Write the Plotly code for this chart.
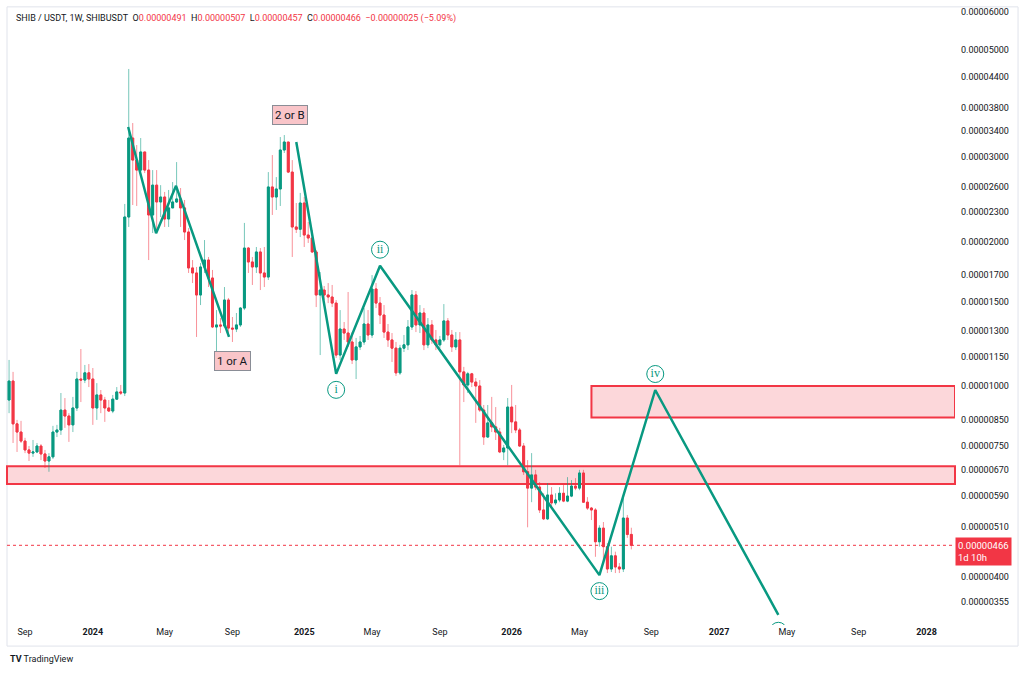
import numpy as np
import pandas as pd
import plotly.graph_objects as go

UNIT = 1e-6  # all prices below are in millionths of USDT

# weekly SHIB/USDT candles, first week starting 2023-08-07
first_week = "2023-08-07"
opens = [
    9.35, 10.24, 8.34, 8.02, 7.68, 7.36, 7.25, 7.29, 7.50, 7.22,
    6.98, 7.12, 8.02, 8.10, 8.91, 8.66, 8.30, 9.00, 10.34, 10.29,
    10.65, 10.34, 9.00, 9.58, 9.35, 9.00, 8.87, 9.39, 9.72, 9.67,
    22.48, 32.82, 29.53, 28.15, 30.70, 28.15, 22.70, 26.19, 24.16, 24.74,
    22.27, 23.48, 24.16, 24.51, 23.48, 20.92, 17.61, 17.19, 15.47, 17.69,
    18.29, 16.78, 13.27, 13.40, 13.33, 15.10, 13.20, 13.14, 13.40, 14.53,
    19.37, 18.12, 17.69, 19.01, 17.19, 16.86, 25.96, 24.74, 25.71, 30.99,
    32.20, 27.88, 21.43, 21.20, 24.04, 20.62, 20.33, 19.01, 15.47, 15.84,
    15.47, 15.32, 14.88, 11.60, 13.14, 12.89, 12.35, 11.33, 12.06, 12.35,
    13.46, 12.77, 15.92, 14.88, 14.05, 12.95, 12.47, 11.99, 10.65, 11.99,
    12.18, 13.27, 15.47, 13.40, 14.19, 12.18, 13.40, 12.47, 12.18, 12.47,
    13.66, 12.77, 12.06, 12.47, 10.70, 10.05, 10.60, 10.19, 10.00, 8.91,
    7.83, 8.38, 8.22, 8.02, 7.29, 7.43, 9.04, 8.42, 8.10, 7.50,
    6.63, 6.13, 6.53, 6.16, 5.52, 5.29, 5.93, 5.71, 5.79, 5.98,
    5.76, 5.90, 6.19, 6.13, 6.59, 5.73, 5.57, 5.52, 4.74, 5.06,
    4.63, 4.16, 4.43, 4.20, 4.16, 5.31, 4.91]
highs = [
    11.33, 10.70, 8.50, 8.46, 7.80, 7.50, 7.72, 7.61, 7.57, 7.36,
    7.25, 8.26, 8.30, 9.67, 9.44, 8.78, 9.49, 10.70, 11.94, 11.06,
    11.11, 10.90, 10.14, 9.81, 9.49, 9.35, 9.58, 9.95, 10.05, 23.93,
    45.70, 35.27, 31.74, 32.82, 30.70, 29.53, 28.15, 28.15, 26.19, 25.35,
    25.59, 26.58, 29.25, 25.83, 24.39, 21.32, 18.29, 17.69, 18.03, 20.13,
    18.56, 17.44, 14.39, 13.85, 16.07, 15.25, 13.92, 14.19, 14.60, 21.85,
    19.47, 18.56, 19.47, 19.37, 19.47, 27.88, 30.25, 27.22, 32.98, 33.30,
    32.20, 29.53, 24.04, 25.23, 24.74, 21.95, 21.12, 19.19, 17.27, 16.15,
    16.38, 16.23, 15.10, 14.39, 13.59, 15.69, 12.95, 12.59, 12.71, 14.53,
    14.39, 17.02, 16.38, 15.32, 14.74, 13.46, 12.89, 12.35, 12.18, 12.77,
    13.72, 15.84, 15.77, 14.74, 14.53, 13.85, 13.72, 13.08, 12.71, 14.81,
    13.85, 13.08, 12.95, 12.95, 10.96, 10.70, 10.65, 10.39, 10.29, 9.13,
    9.13, 9.49, 9.04, 8.18, 7.54, 9.44, 10.05, 9.13, 8.18, 7.61,
    7.01, 7.25, 6.69, 6.31, 5.98, 6.28, 6.16, 5.98, 6.16, 6.22,
    6.46, 6.37, 6.43, 6.69, 6.69, 5.87, 5.60, 5.57, 5.13, 5.21,
    4.71, 4.63, 4.52, 4.28, 5.85, 5.39, 5.07]
lows = [
    8.78, 7.61, 7.29, 7.61, 7.25, 6.98, 7.12, 7.25, 7.01, 6.75,
    6.63, 7.05, 7.83, 7.91, 8.18, 7.65, 8.02, 8.87, 9.26, 10.14,
    9.95, 8.30, 8.50, 8.78, 8.42, 8.83, 8.78, 9.35, 9.58, 9.53,
    21.43, 23.81, 23.70, 27.88, 27.75, 18.29, 20.82, 20.92, 22.48, 21.43,
    21.43, 23.48, 24.04, 21.43, 20.13, 17.19, 16.38, 12.65, 14.74, 17.19,
    16.07, 13.20, 10.90, 12.89, 13.20, 12.65, 12.35, 12.95, 13.27, 14.39,
    17.19, 16.23, 17.19, 15.84, 16.07, 16.62, 22.70, 23.25, 23.70, 30.55,
    27.75, 18.56, 20.82, 20.42, 19.47, 19.85, 18.92, 14.60, 11.60, 15.10,
    14.88, 14.60, 11.44, 11.33, 12.47, 12.06, 11.11, 10.34, 11.88, 12.18,
    12.47, 12.59, 14.53, 13.46, 12.59, 12.06, 11.22, 10.49, 10.55, 11.77,
    11.88, 13.08, 12.95, 12.89, 11.88, 11.99, 12.24, 11.88, 11.99, 12.35,
    12.47, 11.77, 11.88, 6.84, 9.26, 9.67, 9.95, 8.38, 8.83, 7.54,
    7.80, 8.02, 7.72, 7.25, 7.01, 6.84, 7.98, 7.98, 7.47, 6.53,
    5.08, 5.73, 6.07, 5.44, 5.26, 5.26, 5.60, 5.65, 5.73, 5.73,
    5.73, 5.87, 6.07, 6.07, 5.71, 5.52, 5.26, 4.41, 4.63, 4.28,
    4.08, 4.10, 4.08, 4.08, 4.10, 4.83, 4.57]
closes = [
    10.24, 8.34, 8.02, 7.68, 7.36, 7.25, 7.29, 7.50, 7.22, 6.98,
    7.12, 8.02, 8.10, 8.91, 8.66, 8.30, 9.00, 10.34, 10.29, 10.65,
    10.34, 9.00, 9.58, 9.35, 9.00, 8.87, 9.39, 9.72, 9.67, 22.48,
    32.82, 29.53, 28.15, 30.70, 28.15, 22.70, 26.19, 24.16, 24.74, 22.27,
    23.48, 24.16, 24.51, 23.48, 20.92, 17.61, 17.19, 15.47, 17.69, 18.29,
    16.78, 13.27, 13.40, 13.33, 15.10, 13.20, 13.14, 13.40, 14.53, 19.37,
    18.12, 17.69, 19.01, 17.19, 16.86, 25.96, 24.74, 25.71, 30.99, 32.20,
    27.88, 21.43, 21.20, 24.04, 20.62, 20.33, 19.01, 15.47, 15.84, 15.47,
    15.32, 14.88, 11.60, 13.14, 12.89, 12.35, 11.33, 12.06, 12.35, 13.46,
    12.77, 15.92, 14.88, 14.05, 12.95, 12.47, 11.99, 10.65, 11.99, 12.18,
    13.27, 15.47, 13.40, 14.19, 12.18, 13.40, 12.47, 12.18, 12.47, 13.66,
    12.77, 12.06, 12.47, 10.70, 10.05, 10.60, 10.19, 10.00, 8.91, 7.83,
    8.38, 8.22, 8.02, 7.29, 7.43, 9.04, 8.42, 8.10, 7.50, 6.63,
    6.13, 6.53, 6.16, 5.52, 5.29, 5.93, 5.71, 5.79, 5.98, 5.76,
    5.90, 6.19, 6.13, 6.59, 5.73, 5.57, 5.52, 4.74, 5.06, 4.63,
    4.16, 4.43, 4.20, 4.16, 5.31, 4.91, 4.66]

# elliott wave drawings
abc_dates = ["2024-03-03", "2024-04-21", "2024-05-26", "2024-08-27"]
abc_prices = [34.6, 20.8, 26.1, 12.65]
wave_dates = ["2024-12-23", "2025-03-03", "2025-05-19", "2026-06-08", "2026-09-14", "2027-04-18"]
wave_prices = [32.2, 10.6, 17.8, 4.04, 9.81, 3.34]
wave_names = ["", "i", "ii", "iii", "iv", ""]
wave_side = [0, -1, 1, -1, 1, -1]   # label below (-1) / above (1)

# supply zones
zone_low = [6.25, 6.81]
zone_high = [8.6, 10.0]
zone_high_start = "2026-05-25"

price_ticks = [60, 50, 44, 38, 34, 30, 26, 23, 20, 17, 15, 13, 11.5, 10,
               8.5, 7.5, 6.7, 5.9, 5.1, 4.0, 3.55]
time_ticks = ["2023-09-04", "2024-01-01", "2024-05-06", "2024-09-02", "2025-01-06",
              "2025-05-05", "2025-09-01", "2026-01-05", "2026-05-04", "2026-09-07",
              "2027-01-04", "2027-05-03", "2027-09-06", "2028-01-03"]
time_labels = ["Sep", "<b>2024</b>", "May", "Sep", "<b>2025</b>", "May", "Sep",
               "<b>2026</b>", "May", "Sep", "<b>2027</b>", "May", "Sep", "<b>2028</b>"]

UP = "#089981"
DOWN = "#f23645"
TXT = "#131722"
FONT = "Roboto"

y_range = [-5.4975, -4.2069]
plot_h = 620  # px height of the price pane
px_per_decade = plot_h / (y_range[1] - y_range[0])

dates = pd.date_range(first_week, periods=len(closes), freq="7D")
o = np.array(opens) * UNIT
h = np.array(highs) * UNIT
l = np.array(lows) * UNIT
c = np.array(closes) * UNIT

fig = go.Figure()

# wicks, a bit lighter like on the TV chart
fig.add_trace(go.Candlestick(
    x=dates, open=o, high=h, low=l, close=c,
    increasing=dict(line=dict(color="rgba(8,153,129,0.55)", width=1), fillcolor="rgba(8,153,129,0.55)"),
    decreasing=dict(line=dict(color="rgba(242,54,69,0.55)", width=1), fillcolor="rgba(242,54,69,0.55)"),
    hoverinfo="skip", showlegend=False))
# solid bodies on top
fig.add_trace(go.Candlestick(
    x=dates, open=o, high=np.maximum(o, c), low=np.minimum(o, c), close=c,
    increasing=dict(line=dict(color=UP, width=1), fillcolor=UP),
    decreasing=dict(line=dict(color=DOWN, width=1), fillcolor=DOWN),
    hoverinfo="skip", showlegend=False))

fig.add_trace(go.Scatter(x=abc_dates, y=np.array(abc_prices) * UNIT, mode="lines",
                         line=dict(color=UP, width=2.5), hoverinfo="skip", showlegend=False))
fig.add_trace(go.Scatter(x=wave_dates, y=np.array(wave_prices) * UNIT, mode="lines",
                         line=dict(color=UP, width=2.5), hoverinfo="skip", showlegend=False))

# circled wave labels, 16 px above / below each pivot
lab_x = [d for d, s in zip(wave_dates, wave_side) if s != 0]
lab_y = [p * UNIT * 10 ** (s * 16 / px_per_decade)
         for p, s in zip(wave_prices, wave_side) if s != 0]
lab_t = [n for n, s in zip(wave_names, wave_side) if s != 0]
fig.add_trace(go.Scatter(x=lab_x, y=lab_y, mode="markers+text", text=lab_t,
                         textposition="middle center",
                         textfont=dict(family="Liberation Serif", size=12, color=UP),
                         marker=dict(symbol="circle", size=17, color="white",
                                     line=dict(color=UP, width=1)),
                         hoverinfo="skip", showlegend=False))

x_range = ["2023-08-03 09:00", "2028-02-22"]

shapes = [
    # frame
    dict(type="rect", xref="paper", yref="paper", x0=0, x1=1.0665, y0=-0.034, y1=0.997,
         line=dict(color="#e0e3eb", width=1), layer="below"),
    dict(type="rect", xref="paper", yref="y", x0=0, x1=1,
         y0=zone_low[0] * UNIT, y1=zone_low[1] * UNIT,
         fillcolor="rgba(242,54,69,0.2)", line=dict(color=DOWN, width=2), layer="below"),
    dict(type="rect", xref="x", yref="y", x0=zone_high_start, x1=x_range[1],
         y0=zone_high[0] * UNIT, y1=zone_high[1] * UNIT,
         fillcolor="rgba(242,54,69,0.2)", line=dict(color=DOWN, width=2), layer="below"),
    # last price line
    dict(type="line", xref="paper", yref="y", x0=0, x1=1, y0=c[-1], y1=c[-1],
         line=dict(color=DOWN, width=1, dash="dot"), layer="below"),
]

annotations = []
label_box = dict(showarrow=False, bgcolor="#f9c5c9", bordercolor="#8a8d96", borderwidth=1,
                 borderpad=2, font=dict(family=FONT, size=11.5, color=TXT))
annotations.append(dict(x=wave_dates[0], y=np.log10(wave_prices[0] * UNIT),
                        xshift=-6, yshift=27, text="2 or B", **label_box))
annotations.append(dict(x=abc_dates[-1], y=np.log10(abc_prices[-1] * UNIT),
                        xshift=3, yshift=-24, text="1 or A", **label_box))

# header line with last candle values
red = lambda s: f'<span style="color:{DOWN}">{s}</span>'
chg = closes[-1] - closes[-2]
pct = chg / closes[-2] * 100
sp = "\u00a0\u00a0"
header = ("SHIB / USDT, 1W, SHIBUSDT" + sp
          + "O" + red(f"{opens[-1] * UNIT:.8f}") + sp
          + "H" + red(f"{highs[-1] * UNIT:.8f}") + sp
          + "L" + red(f"{lows[-1] * UNIT:.8f}") + sp
          + "C" + red(f"{closes[-1] * UNIT:.8f}") + sp
          + red(f"\u2212{abs(chg) * UNIT:.8f} (\u2212{abs(pct):.2f}%)"))
annotations.append(dict(xref="paper", yref="paper", x=0, y=1, xshift=7, yshift=-13,
                        xanchor="left", yanchor="middle", text=header, showarrow=False,
                        font=dict(family=FONT, size=9, color=TXT)))

# last price tag on the axis
annotations.append(dict(xref="paper", yref="y", x=1, y=np.log10(c[-1]), xanchor="left",
                        yanchor="top", yshift=8, text=f"{c[-1]:.8f}<br>1d 10h", align="left",
                        showarrow=False, bgcolor=DOWN, borderpad=2,
                        font=dict(family=FONT, size=9.5, color="white")))

annotations.append(dict(xref="paper", yref="paper", x=0, y=-0.055, xshift=1, xanchor="left",
                        yanchor="middle", showarrow=False,
                        text="<b>TV</b> TradingView", font=dict(family=FONT, size=9, color=TXT)))

fig.update_layout(
    width=1024, height=673,
    margin=dict(l=7, r=69, t=5, b=48),
    paper_bgcolor="white", plot_bgcolor="white",
    shapes=shapes, annotations=annotations,
    showlegend=False,
    xaxis=dict(type="date", range=x_range, tickvals=time_ticks, ticktext=time_labels,
               showgrid=False, zeroline=False, showline=False, ticks="",
               tickfont=dict(family=FONT, size=9, color=TXT), rangeslider=dict(visible=False),
               fixedrange=True),
    yaxis=dict(type="log", side="right", range=y_range,
               tickvals=[v * UNIT for v in price_ticks],
               ticktext=[f"{v * UNIT:.8f}" for v in price_ticks],
               showgrid=False, zeroline=False, showline=False, ticks="",
               ticklabelstandoff=5,
               tickfont=dict(family=FONT, size=9, color=TXT), fixedrange=True),
)

fig.write_html("out.html", config=dict(displayModeBar=False),
               post_script="document.body.style.margin='0px';")
